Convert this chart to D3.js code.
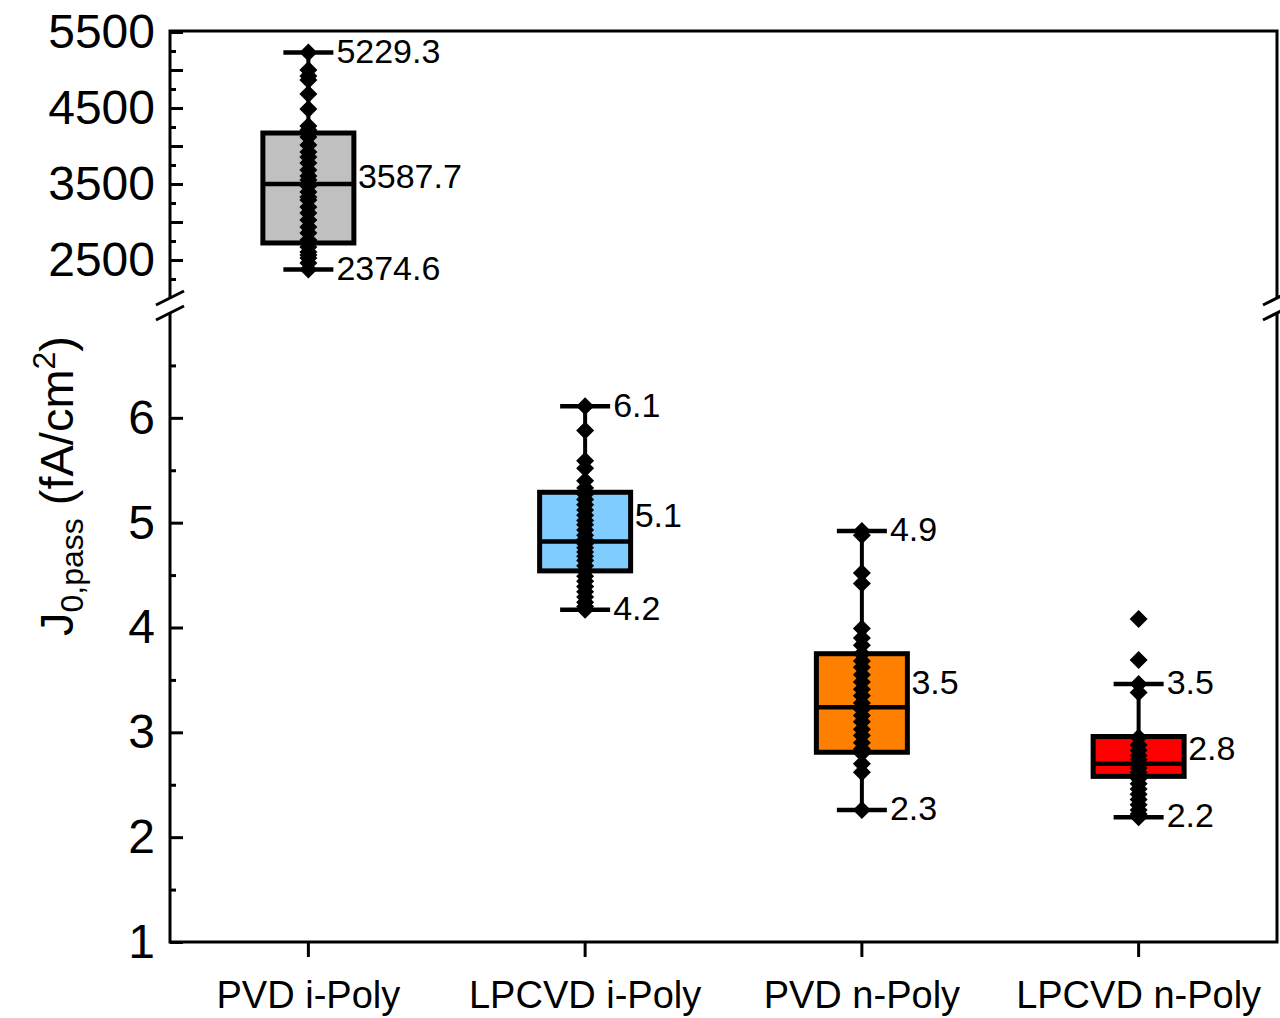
<!DOCTYPE html>
<html lang="en">

<head>
  <meta charset="UTF-8">
  <title>J0,pass box chart</title>
  <script src="https://d3js.org/d3.v7.min.js"></script>
  <style>
    body { margin: 0; background: #fff; }
    text { font-family: "Liberation Sans", Arial, sans-serif; fill: #000; }
  </style>
</head>

<body>
  <script>
    // categories and box statistics (first group is on the upper, broken-off scale)
    const categories = ['PVD i-Poly', 'LPCVD i-Poly', 'PVD n-Poly', 'LPCVD n-Poly'];
    const boxColors = ['#c0c0c0', '#80ccff', '#ff8000', '#ff0000'];
    const q1 = [2724, 4.54, 2.81, 2.58];
    const median = [3500, 4.82, 3.24, 2.70];
    const q3 = [4171, 5.29, 3.75, 2.96];
    const whiskerLow = [2374.6, 4.17, 2.26, 2.19];
    const whiskerHigh = [5229.3, 6.11, 4.92, 3.46];
    const mean = [3587.7, 5.06, 3.46, 2.83];

    // individual measurements
    const pointsPvdI = [5229.3, 5000, 4921, 4868, 4684, 4487, 4263, 4211, 4118, 4013, 3921, 3855, 3776, 3684, 3605, 3553,
      3474, 3395, 3329, 3290, 3197, 3118, 3026, 2934, 2855, 2763, 2671, 2605, 2566, 2526, 2461, 2374.6];
    const pointsLpcvdI = [6.11, 5.88, 5.59, 5.52, 5.40, 5.33, 5.27, 5.22, 5.17, 5.12, 5.07, 5.02, 4.98, 4.93, 4.88, 4.84,
      4.80, 4.76, 4.72, 4.68, 4.64, 4.59, 4.54, 4.49, 4.44, 4.39, 4.34, 4.29, 4.24, 4.20, 4.17];
    const pointsPvdN = [4.92, 4.88, 4.52, 4.42, 3.99, 3.90, 3.83, 3.75, 3.68, 3.62, 3.55, 3.48, 3.41, 3.35, 3.28, 3.22,
      3.16, 3.10, 3.03, 2.97, 2.90, 2.84, 2.80, 2.70, 2.62, 2.26];
    const pointsLpcvdN = [4.08, 3.69, 3.46, 3.38, 2.95, 2.88, 2.83, 2.78, 2.74, 2.70, 2.66, 2.62, 2.56, 2.51, 2.46, 2.41,
      2.36, 2.31, 2.26, 2.22, 2.19];
    const points = [pointsPvdI, pointsLpcvdI, pointsPvdN, pointsLpcvdN];

    // axis ticks
    const topMajor = [2500, 3000, 3500, 4000, 4500, 5000, 5500];
    const topLabeled = [2500, 3500, 4500, 5500];
    const topMinor = [2250, 2750, 3250, 3750, 4250, 4750, 5250];
    const bottomMajor = [1, 2, 3, 4, 5, 6];
    const bottomMinor = [1.5, 2.5, 3.5, 4.5, 5.5, 6.5];

    const w = 1280;
    const h = 1018;
    const pLeft = 170, pRight = 1277, pTop = 31, pBottom = 942;
    const breakTop = 298, breakBottom = 313;

    const svg = d3.select('body')
      .append('svg')
      .attr('width', w)
      .attr('height', h)

    const x = d3.scaleBand()
      .domain(categories)
      .range([pLeft, pRight]);
    const cx = d => x(d) + x.bandwidth() / 2;

    const yTop = d3.scaleLinear()
      .domain([2000, 5500])
      .range([breakTop, pTop + 1]);
    const yBottom = d3.scaleLinear()
      .domain([1, 7])
      .range([pBottom, breakBottom]);
    const yFor = i => i === 0 ? yTop : yBottom;

    // ticks
    function yAxis(scale, major, labeled, minor) {
      const g = svg.append('g').attr('transform', `translate(${pLeft},0)`);
      g.append('g').call(d3.axisLeft(scale).tickValues(major).tickSizeInner(-13).tickSizeOuter(0)
        .tickPadding(15).tickFormat(d => labeled.includes(d) ? d : ''));
      g.append('g').call(d3.axisLeft(scale).tickValues(minor).tickSizeInner(-6).tickSizeOuter(0).tickFormat(''));
      g.selectAll('.domain').remove();
      g.selectAll('line').attr('stroke', '#000').attr('stroke-width', 3);
      g.selectAll('text').attr('font-size', 48).attr('font-family', '"Liberation Sans", Arial, sans-serif');
    }
    yAxis(yTop, topMajor, topLabeled, topMinor);
    yAxis(yBottom, bottomMajor, bottomMajor, bottomMinor);

    const xAxis = svg.append('g')
      .attr('transform', `translate(0,${pBottom})`)
      .call(d3.axisBottom(x).tickSizeInner(15).tickSizeOuter(0).tickPadding(24));
    xAxis.select('.domain').remove();
    xAxis.selectAll('line').attr('stroke', '#000').attr('stroke-width', 3);
    xAxis.selectAll('text').attr('font-size', 38).attr('font-family', '"Liberation Sans", Arial, sans-serif');

    // frame with axis break
    const frame = svg.append('g').attr('stroke', '#000').attr('stroke-width', 3).attr('fill', 'none');
    frame.append('path').attr('d', `M${pLeft},${breakTop}V${pTop}H${pRight}V${breakTop}`);
    frame.append('path').attr('d', `M${pLeft},${breakBottom}V${pBottom}H${pRight}V${breakBottom}`);
    [pLeft, pRight].forEach(xx => {
      [breakTop, breakBottom].forEach(yy => {
        frame.append('line')
          .attr('x1', xx - 14).attr('y1', yy + 7)
          .attr('x2', xx + 14).attr('y2', yy - 7);
      });
    });

    // boxes
    const groups = svg.selectAll('.grp')
      .data(categories)
      .enter()
      .append('g')
      .attr('class', 'grp');

    const boxW = 91, capW = 50;
    const fmt = d3.format('.1f');

    groups.each(function (c, i) {
      const g = d3.select(this);
      const y = yFor(i);
      const xc = cx(c);

      g.append('line')
        .attr('x1', xc).attr('x2', xc)
        .attr('y1', y(whiskerLow[i])).attr('y2', y(whiskerHigh[i]))
        .attr('stroke', '#000').attr('stroke-width', 4);

      g.append('rect')
        .attr('x', xc - boxW / 2)
        .attr('y', y(q3[i]))
        .attr('width', boxW)
        .attr('height', y(q1[i]) - y(q3[i]))
        .attr('fill', boxColors[i])
        .attr('stroke', '#000')
        .attr('stroke-width', 5);

      g.append('line')
        .attr('x1', xc - boxW / 2).attr('x2', xc + boxW / 2)
        .attr('y1', y(median[i])).attr('y2', y(median[i]))
        .attr('stroke', '#000').attr('stroke-width', 4.5);

      [whiskerLow[i], whiskerHigh[i]].forEach(v => {
        g.append('line')
          .attr('x1', xc - capW / 2).attr('x2', xc + capW / 2)
          .attr('y1', y(v)).attr('y2', y(v))
          .attr('stroke', '#000').attr('stroke-width', 4.5);
      });

      g.selectAll('path.pt')
        .data(points[i])
        .enter()
        .append('path')
        .attr('class', 'pt')
        .attr('d', d => `M${xc},${y(d) - 9}L${xc + 9},${y(d)}L${xc},${y(d) + 9}L${xc - 9},${y(d)}Z`)
        .attr('fill', '#000');

      // value labels
      const lab = [
        [whiskerHigh[i], xc + capW / 2 + 3],
        [mean[i], xc + boxW / 2 + 4],
        [whiskerLow[i], xc + capW / 2 + 3]
      ];
      lab.forEach(([v, lx]) => {
        g.append('text')
          .attr('x', lx)
          .attr('y', y(v))
          .attr('dy', '0.3em')
          .attr('font-size', 34)
          .text(fmt(v));
      });
    });

    // y title
    const title = svg.append('text')
      .attr('transform', 'translate(73,486) rotate(-90)')
      .attr('text-anchor', 'middle')
      .attr('font-size', 47);
    title.append('tspan').text('J');
    title.append('tspan').attr('font-size', 32).attr('dy', 10).text('0,pass');
    title.append('tspan').attr('dy', -10).text('\u00a0(fA/cm');
    title.append('tspan').attr('font-size', 32).attr('dy', -18).text('2');
    title.append('tspan').attr('dy', 18).text(')');
  </script>
</body>

</html>
